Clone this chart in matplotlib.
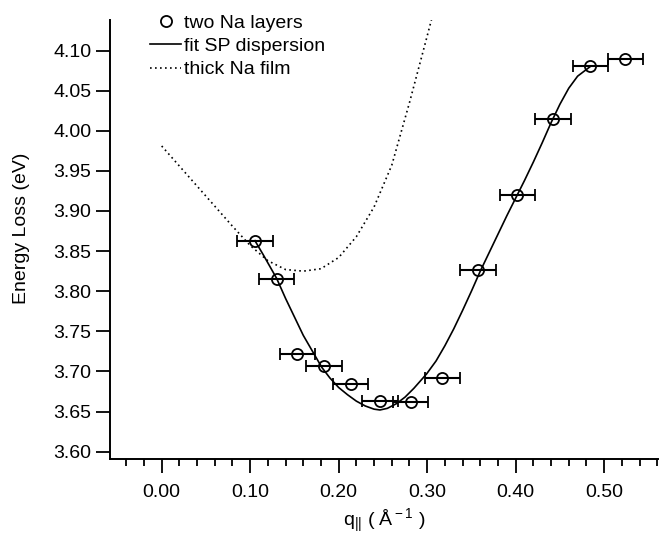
import matplotlib
matplotlib.use('Agg')
import matplotlib.pyplot as plt
from matplotlib.lines import Line2D

plt.rcParams['font.family'] = ['Liberation Sans', 'DejaVu Sans']
plt.rcParams['mathtext.fontset'] = 'custom'
plt.rcParams['mathtext.rm'] = 'Liberation Sans'
plt.rcParams['mathtext.it'] = 'Liberation Sans:italic'

# measured points: two Na layers
q_meas = [0.1054, 0.1299, 0.1534, 0.1836, 0.2136, 0.2468, 0.2814,
          0.3171, 0.3574, 0.4018, 0.4422, 0.4843, 0.5238]
e_meas = [3.863, 3.8157, 3.7221, 3.7074, 3.6839, 3.6633, 3.6624,
          3.692, 3.8265, 3.9197, 4.0146, 4.0804, 4.0891]
q_err = 0.02

# fit SP dispersion
q_fit = [0.1054, 0.115, 0.1299, 0.14, 0.15, 0.16, 0.171, 0.181, 0.19, 0.20,
         0.21, 0.22, 0.23, 0.24, 0.2467, 0.255, 0.2655, 0.275, 0.285, 0.2994,
         0.31, 0.32, 0.33, 0.34, 0.35, 0.36, 0.37, 0.38, 0.39, 0.40, 0.41,
         0.42, 0.43, 0.44, 0.45, 0.46, 0.47, 0.4843]
e_fit = [3.863, 3.845, 3.816, 3.791, 3.768, 3.745, 3.724, 3.705, 3.692, 3.680,
         3.671, 3.663, 3.657, 3.653, 3.652, 3.654, 3.660, 3.668, 3.679, 3.697,
         3.713, 3.732, 3.753, 3.776, 3.800, 3.825, 3.848, 3.871, 3.894, 3.916,
         3.938, 3.961, 3.985, 4.010, 4.033, 4.053, 4.068, 4.080]

# thick Na film
q_film = [0.00, 0.02, 0.04, 0.06, 0.08, 0.10, 0.12, 0.14, 0.16, 0.18,
          0.20, 0.22, 0.24, 0.26, 0.28, 0.30, 0.31]
e_film = [3.981, 3.956, 3.931, 3.906, 3.881, 3.857, 3.838, 3.827, 3.825,
          3.828, 3.842, 3.868, 3.905, 3.957, 4.035, 4.118, 4.16]

fig = plt.figure(figsize=(6.63, 5.41), dpi=100)
ax = fig.add_axes([0.1659, 0.1516, 0.8261, 0.8114])

ax.errorbar(q_meas, e_meas, xerr=q_err, fmt='o', color='black', mfc='none',
            ms=8, mew=1.3, elinewidth=1.5, capsize=4.5, capthick=1.5,
            zorder=3)
ax.plot(q_fit, e_fit, color='black', lw=1.2)
ax.plot(q_film, e_film, color='black', lw=1.2, ls=(0, (1, 2)))

ax.set_xlim(-0.0584, 0.5605)
ax.set_ylim(3.5909, 4.138)
ax.set_xticks([0.0, 0.1, 0.2, 0.3, 0.4, 0.5])
ax.set_xticklabels(['0.00', '0.10', '0.20', '0.30', '0.40', '0.50'])
ax.set_xticks([-0.04, -0.02, 0.02, 0.04, 0.06, 0.08, 0.12, 0.14, 0.16, 0.18,
               0.22, 0.24, 0.26, 0.28, 0.32, 0.34, 0.36, 0.38, 0.42, 0.44,
               0.46, 0.48, 0.52, 0.54, 0.56], minor=True)
yt = [3.60, 3.65, 3.70, 3.75, 3.80, 3.85, 3.90, 3.95, 4.00, 4.05, 4.10]
ax.set_yticks(yt)
ax.set_yticklabels(['%.2f' % v for v in yt])

for s in ['top', 'right']:
    ax.spines[s].set_visible(False)
for s in ['left', 'bottom']:
    ax.spines[s].set_linewidth(1.4)
ax.tick_params(axis='both', which='major', length=10, width=1.3,
               labelsize=14)
ax.tick_params(axis='x', which='major', pad=8)
ax.tick_params(axis='y', which='major', pad=3.5)
ax.tick_params(axis='x', which='minor', length=5, width=1.3)

ax.set_xlabel(r'q$_{\rm ||}$ ( Å$^{\rm -1}$ )', fontsize=14)
ax.xaxis.set_label_coords(0.5, -0.11)
ax.set_ylabel('Energy Loss (eV)', fontsize=14)
ax.yaxis.set_label_coords(-0.146, 0.526)

handles = [
    Line2D([], [], ls='none', marker='o', ms=8, mew=1.3, mfc='none',
           color='black'),
    Line2D([], [], color='black', lw=1.2),
    Line2D([], [], color='black', lw=1.2, ls=(0, (1, 2))),
]
labels = ['two Na layers', 'fit SP dispersion', 'thick Na film']
ax.legend(handles, labels, loc='upper left',
          bbox_to_anchor=(150 / 663, 1 - 14 / 541),
          bbox_transform=fig.transFigure, frameon=False, fontsize=14,
          handlelength=1.6, handletextpad=0.15, labelspacing=0.3,
          borderaxespad=0, borderpad=0)

fig.savefig('out.png', dpi=100)
